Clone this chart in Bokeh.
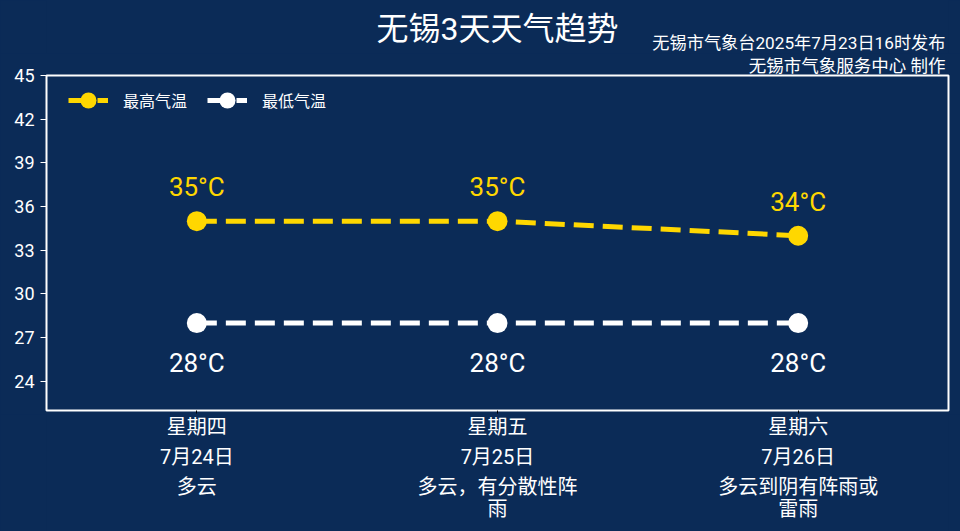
from bokeh.plotting import figure
from bokeh.layouts import column
from bokeh.core.properties import value
from bokeh.models import (ColumnDataSource, FixedTicker, Label, LabelSet,
                          Legend, LegendItem, Range1d, Title)
from bokeh.embed import file_html
from bokeh.resources import INLINE

# data
days = ["星期四", "星期五", "星期六"]
dates = ["7月24日", "7月25日", "7月26日"]
weather = ["多云", "多云，有分散性阵雨", "多云到阴有阵雨或雷雨"]
high = [35, 35, 34]
low = [28, 28, 28]
y_ticks = [24, 27, 30, 33, 36, 39, 42, 45]

title_text = "无锡3天天气趋势"
issued_text = "无锡市气象台2025年7月23日16时发布"
maker_text = "无锡市气象服务中心 制作"

# style
bg = "#0b2b57"
yellow = "#FFD700"
white = "#FFFFFF"
font = "Roboto, Noto Sans CJK SC"
wrap = 8
W = 960


def blank(h, **kw):
    f = figure(width=W, height=h, output_backend="svg", toolbar_location=None,
               tools="", x_axis_location=None, y_axis_location=None,
               min_border_top=0, min_border_bottom=0,
               min_border_left=46, min_border_right=12, **kw)
    f.background_fill_color = None
    f.border_fill_color = bg
    f.outline_line_color = None
    f.grid.visible = False
    f.styles = {"background-color": bg}
    return f


x = list(range(len(days)))
src = ColumnDataSource(data=dict(
    x=x,
    high=high,
    low=low,
    high_txt=["%d°C" % v for v in high],
    low_txt=["%d°C" % v for v in low],
    day=days,
    date=dates,
    w1=[w[:wrap] for w in weather],
    w2=[w[wrap:] for w in weather],
))
xr = Range1d(-0.5, len(days) - 0.5)

# header
top = blank(53, x_range=xr, y_range=Range1d(0, 1))
top.add_layout(Label(x=(len(days) - 1) / 2, y=25, y_units="screen", text=title_text,
                     text_align="center", text_baseline="middle",
                     text_color=white, text_font=font, text_font_size="32px"))
top.add_layout(Label(x=899, y=10.5, x_units="screen", y_units="screen", text=issued_text,
                     text_align="right", text_baseline="middle",
                     text_color=white, text_font=font, text_font_size="17.2px"))
top.scatter([0], [0], alpha=0)

# chart
p = figure(width=W, height=361, x_range=xr, y_range=Range1d(22, 45),
           min_border_left=46, min_border_right=12,
           min_border_top=22, min_border_bottom=4,
           output_backend="svg", toolbar_location=None, tools="")
p.background_fill_color = None
p.border_fill_color = bg
p.outline_line_color = white
p.outline_line_width = 2
p.grid.visible = False
p.styles = {"background-color": bg}
p.add_layout(Title(text=maker_text, align="right", offset=3, standoff=0,
                   text_color=white, text_font=font, text_font_size="17.5px",
                   text_font_style="normal"), "above")

p.yaxis.ticker = FixedTicker(ticks=y_ticks)
p.yaxis.axis_line_color = None
p.yaxis.major_tick_line_color = white
p.yaxis.major_tick_out = 6
p.yaxis.major_tick_in = 0
p.yaxis.minor_tick_line_color = None
p.yaxis.major_label_text_color = white
p.yaxis.major_label_text_font = font
p.yaxis.major_label_text_font_size = "18px"
p.yaxis.major_label_standoff = 6

p.xaxis.ticker = FixedTicker(ticks=x)
p.xaxis.axis_line_color = None
p.xaxis.major_tick_line_color = "#000000"
p.xaxis.major_tick_out = 3
p.xaxis.major_tick_in = 0
p.xaxis.minor_tick_line_color = None
p.xaxis.major_label_overrides = {i: "" for i in x}
p.xaxis.major_label_standoff = 0

hl = p.line("x", "high", source=src, line_color=yellow, line_width=5, line_dash="20 9")
hs = p.scatter("x", "high", source=src, size=20, fill_color=yellow, line_color=None)
ll = p.line("x", "low", source=src, line_color=white, line_width=5, line_dash="20 9")
ls = p.scatter("x", "low", source=src, size=20, fill_color=white, line_color=None)

p.add_layout(LabelSet(x="x", y="high", text="high_txt", source=src, y_offset=34,
                      text_align="center", text_baseline="middle",
                      text_color=yellow, text_font=value(font), text_font_size="26px"))
p.add_layout(LabelSet(x="x", y="low", text="low_txt", source=src, y_offset=-40,
                      text_align="center", text_baseline="middle",
                      text_color=white, text_font=value(font), text_font_size="26px"))

legend = Legend(items=[LegendItem(label="最高气温", renderers=[hl, hs]),
                       LegendItem(label="最低气温", renderers=[ll, ls])],
                orientation="horizontal", location=(22, 288),
                margin=0, padding=0, spacing=20,
                glyph_width=40, glyph_height=44, label_standoff=15,
                background_fill_alpha=0, border_line_color=None,
                label_text_color=white, label_text_font=font,
                label_text_font_size="16px")
p.add_layout(legend)

# category labels
bot = blank(117, x_range=xr, y_range=Range1d(0, 1))
for col, yy in [("day", 105), ("date", 75), ("w1", 45), ("w2", 23)]:
    bot.add_layout(LabelSet(x="x", y=yy, y_units="screen", text=col, source=src,
                            text_align="center", text_baseline="middle",
                            text_color=white, text_font=value(font),
                            text_font_size="20px"))
bot.scatter([0], [0], alpha=0)

layout = column(top, p, bot, spacing=0, styles={"background-color": bg})
open("out.html", "w").write(file_html(layout, INLINE))
